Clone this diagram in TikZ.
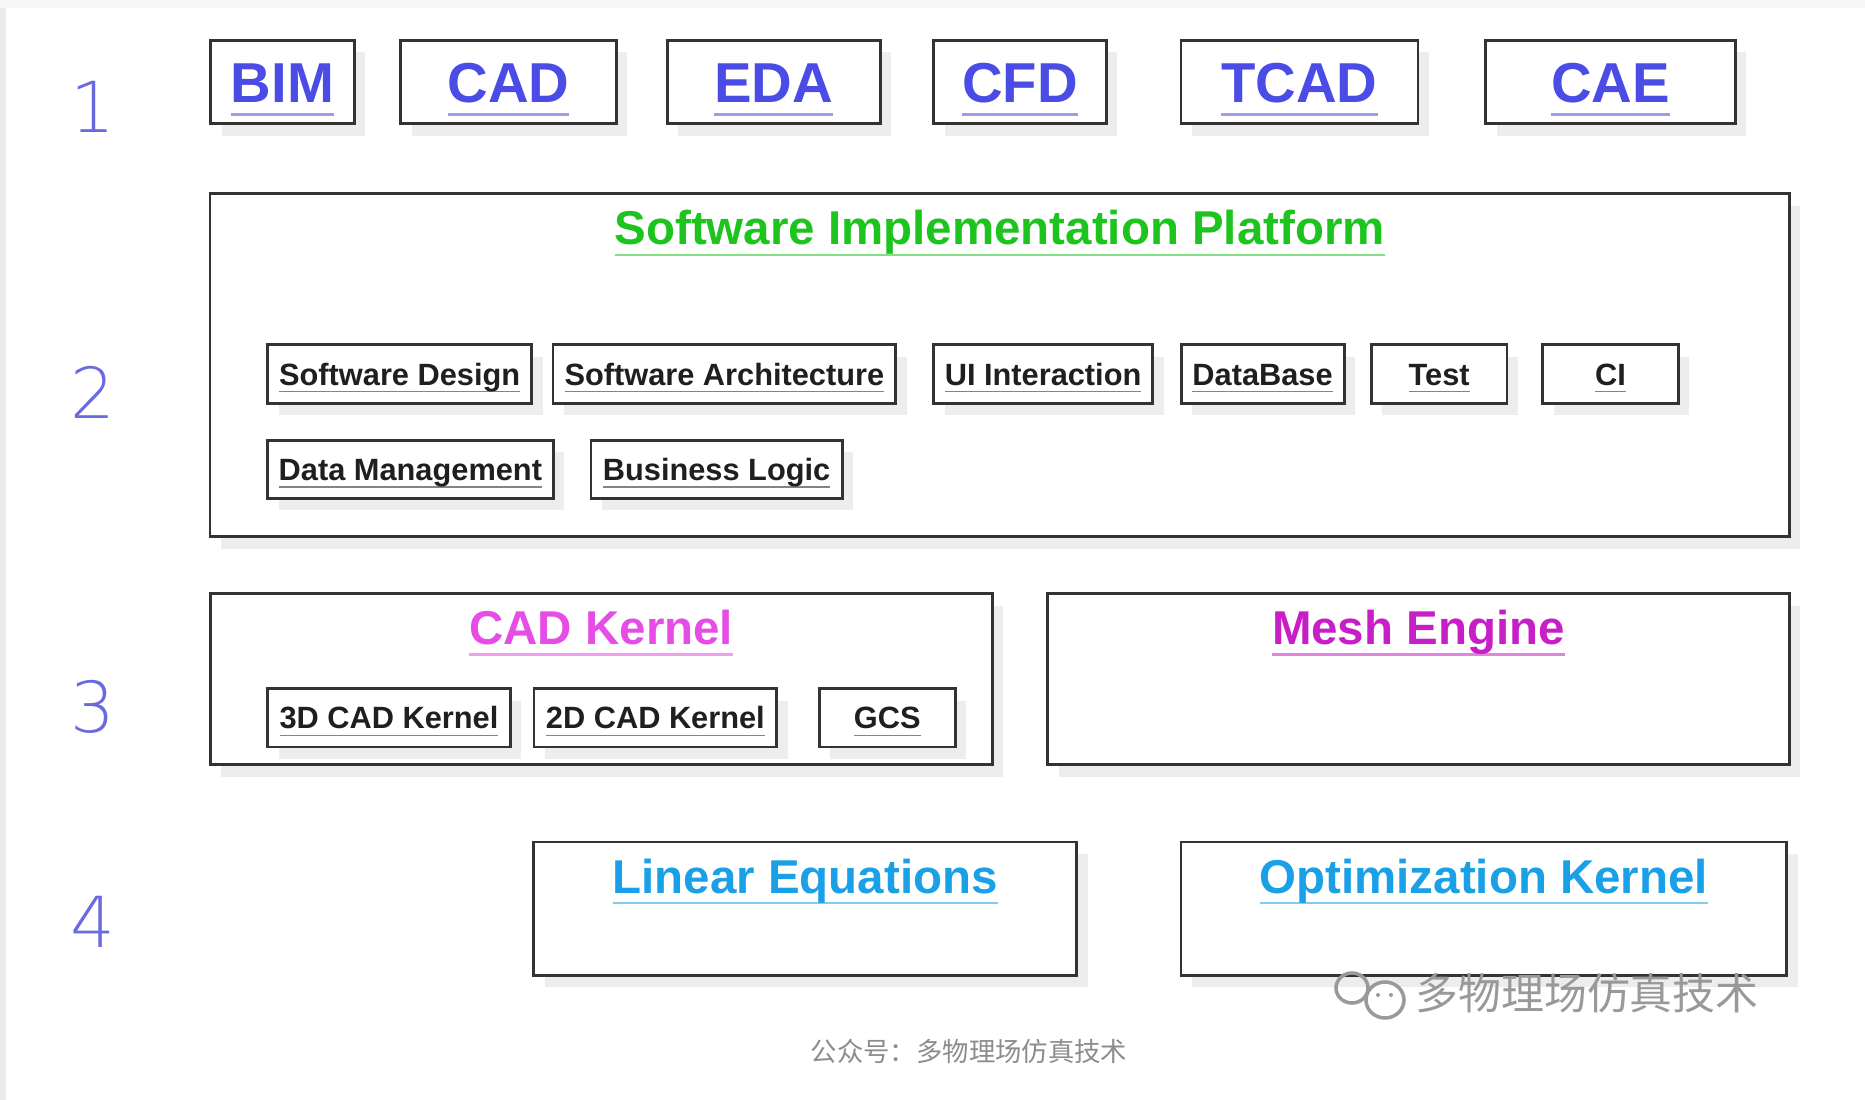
\documentclass[tikz,border=0pt]{standalone}
\usepackage{fontspec}
\setmainfont{Liberation Sans}
\newfontfamily\numfont{DejaVu Sans ExtraLight}
\newfontfamily\cjkfont{Noto Sans CJK SC}
\usetikzlibrary{shadows}

\definecolor{appblue}{HTML}{4B4BE6}
\definecolor{layerblue}{HTML}{6A6AE0}
\definecolor{platgreen}{HTML}{1EC41E}
\definecolor{cadpink}{HTML}{E64DE6}
\definecolor{meshpink}{HTML}{C81EC8}
\definecolor{solvecyan}{HTML}{1AA0E6}

\newsavebox\ulbox
\newcommand\ulnk[1]{\sbox\ulbox{#1}\rlap{\color{.!55!white}\rule[-0.24em]{\wd\ulbox}{0.055em}}\usebox\ulbox}

\begin{document}
\begin{tikzpicture}[x=0.01cm, y=-0.01cm,
	box/.style={draw=black!80, line width=0.8pt, fill=white, inner sep=0pt, outer sep=0pt,
		drop shadow={fill=black!7, opacity=1, shadow xshift=0.11cm, shadow yshift=-0.12cm}},
	app/.style={box, minimum height=0.83cm, text height=11.5pt, text depth=0pt, text=appblue,
		font=\fontsize{16}{19}\selectfont\bfseries},
	part/.style={box, minimum height=0.583cm, text height=6.3pt, text depth=0pt, text=black!88,
		font=\fontsize{8.75}{10.5}\selectfont\bfseries},
	head/.style={anchor=base, font=\fontsize{13.5}{16}\selectfont\bfseries},
	layer/.style={text=layerblue, font=\numfont\fontsize{20}{24}\selectfont}]
	%Page
	\fill[white] (0,0) rectangle (1865,1100);
	\fill[black!8] (0,0) rectangle (6,1100);
	\fill[black!3] (0,0) rectangle (1865,8);
	\useasboundingbox (0,0) rectangle (1865,1100);
	
	%Layer numbers
	\node[layer] (1) at (93,106.5) {1};
	\node[layer] (2) at (93,392.5) {2};
	\node[layer] (3) at (93,707) {3};
	\node[layer] (4) at (93,922) {4};
	
	%Layer 1
	\node[app, minimum width=1.439cm] (10) at (282.5,82) {\ulnk{BIM}};
	\node[app, minimum width=2.153cm] (11) at (508.5,82) {\ulnk{CAD}};
	\node[app, minimum width=2.129cm] (12) at (773.8,82) {\ulnk{EDA}};
	\node[app, minimum width=1.724cm] (13) at (1019.9,82) {\ulnk{CFD}};
	\node[app, minimum width=2.367cm] (14) at (1299.5,82) {\ulnk{TCAD}};
	\node[app, minimum width=2.497cm] (15) at (1610.5,82) {\ulnk{CAE}};
	
	%Layer 2
	\node[box, minimum width=15.784cm, minimum height=3.425cm] (20) at (999.7,365.2) {};
	\node[head, text=platgreen] (20t) at ([yshift=-0.51cm]20.north) {\ulnk{Software Implementation Platform}};
	\node[part, minimum width=2.641cm] (21) at (399.7,374) {\ulnk{Software Design}};
	\node[part, minimum width=3.425cm] (22) at (724.4,374) {\ulnk{Software Architecture}};
	\node[part, minimum width=2.188cm] (23) at (1043.1,374) {\ulnk{UI Interaction}};
	\node[part, minimum width=1.629cm] (24) at (1262.6,374) {\ulnk{DataBase}};
	\node[part, minimum width=1.356cm] (25) at (1439.2,374) {\ulnk{Test}};
	\node[part, minimum width=1.355cm] (26) at (1610.5,374) {\ulnk{CI}};
	\node[part, minimum width=2.855cm] (27) at (410.4,469.3) {\ulnk{Data Management}};
	\node[part, minimum width=2.51cm] (28) at (716.6,469.3) {\ulnk{Business Logic}};
	
	%Layer 3
	\node[box, minimum width=7.815cm, minimum height=1.713cm] (30) at (601.3,679.2) {};
	\node[head, text=cadpink] (30t) at ([yshift=-0.51cm]30.north) {\ulnk{CAD Kernel}};
	\node[part, minimum width=2.427cm] (31) at (389,717.8) {\ulnk{3D CAD Kernel}};
	\node[part, minimum width=2.427cm] (32) at (655.4,717.8) {\ulnk{2D CAD Kernel}};
	\node[part, minimum width=1.356cm] (33) at (887.3,717.8) {\ulnk{GCS}};
	\node[box, minimum width=7.41cm, minimum height=1.713cm] (35) at (1418.4,679.2) {};
	\node[head, text=meshpink] (35t) at ([yshift=-0.51cm]35.north) {\ulnk{Mesh Engine}};
	
	%Layer 4
	\node[box, minimum width=5.424cm, minimum height=1.332cm] (40) at (805.2,908.7) {};
	\node[head, text=solvecyan] (40t) at ([yshift=-0.51cm]40.north) {\ulnk{Linear Equations}};
	\node[box, minimum width=6.054cm, minimum height=1.332cm] (41) at (1483.8,908.7) {};
	\node[head, text=solvecyan] (41t) at ([yshift=-0.51cm]41.north) {\ulnk{Optimization Kernel}};
	
	%Watermark
	\draw[black!40, line width=1pt] (1352,988) ellipse (16 and 15);
	\draw[black!40, line width=1pt, fill=white] (1385,1000) ellipse (19 and 18);
	\fill[black!40] (1378,995) circle (2) (1391,995) circle (2);
	\node[text=black!40, font=\cjkfont\fontsize{12.2}{14}\selectfont] (wm) at (1587,993) {多物理场仿真技术};
	\node[text=black!45, font=\cjkfont\fontsize{7.5}{9}\selectfont] (cap) at (969,1051) {公众号：多物理场仿真技术};
\end{tikzpicture}
\end{document}
